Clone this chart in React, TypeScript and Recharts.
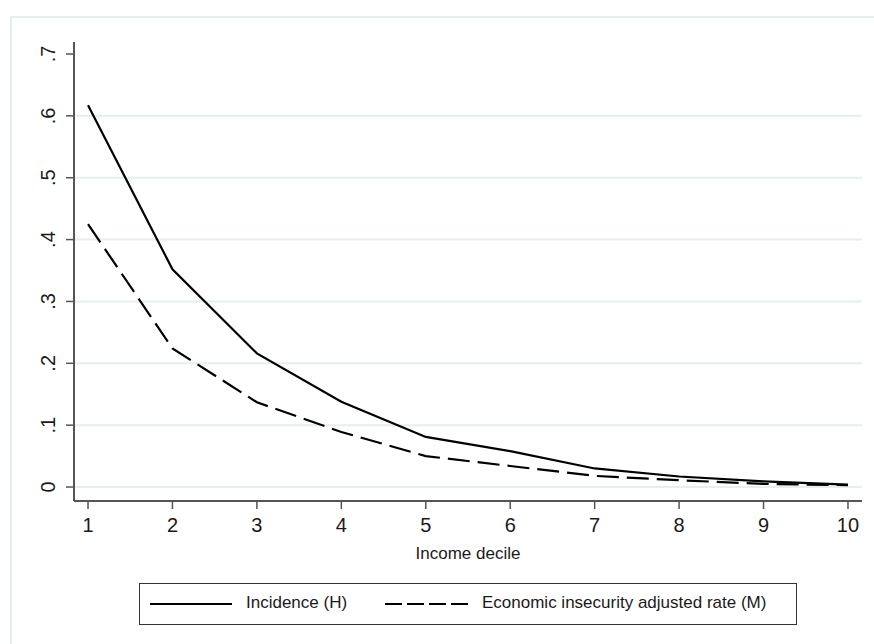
import React from 'react';
import { LineChart, Line, XAxis, YAxis, ReferenceLine, Legend } from 'recharts';

const deciles = [1, 2, 3, 4, 5, 6, 7, 8, 9, 10];
const incidenceH = [0.617, 0.352, 0.216, 0.138, 0.081, 0.058, 0.030, 0.017, 0.009, 0.004];
const adjustedM = [0.425, 0.224, 0.137, 0.089, 0.050, 0.034, 0.018, 0.011, 0.005, 0.003];
const yTicks = [0, 0.1, 0.2, 0.3, 0.4, 0.5, 0.6, 0.7];
const yTickLabels = ['0', '.1', '.2', '.3', '.4', '.5', '.6', '.7'];
const gridValues = [0, 0.1, 0.2, 0.3, 0.4, 0.5, 0.6];
const seriesNames = ['Incidence (H)', 'Economic insecurity adjusted rate (M)'];
const xLabel = 'Income decile';

const data = deciles.map((d, i) => ({ decile: d, H: incidenceH[i], M: adjustedM[i] }));

const FONT = '"Liberation Sans", Arial, sans-serif';
const TEXT = '#1a1a1a';
const AXIS = '#555';
const GRID = '#e6eef0';

const YTick = (props: any) => {
  const { x, y, payload } = props;
  const idx = yTicks.indexOf(payload.value);
  const label = idx >= 0 ? yTickLabels[idx] : String(payload.value);
  return (
    <text
      x={x}
      y={y}
      transform={`rotate(-90, ${x}, ${y})`}
      textAnchor="middle"
      fontSize={20}
      fontFamily={FONT}
      fill={TEXT}
    >
      {label}
    </text>
  );
};

const LegendBox = () => (
  <div
    style={{
      position: 'relative',
      boxSizing: 'border-box',
      width: 658,
      height: 42,
      border: '1.5px solid #333',
      background: '#fff',
      fontFamily: FONT,
      fontSize: 17,
      color: TEXT,
    }}
  >
    <svg width={658} height={42} style={{ position: 'absolute', left: -1.5, top: -1.5 }}>
      <line x1={11} y1={21} x2={93} y2={21} stroke="#000" strokeWidth={2.2} />
      <line x1={246} y1={21} x2={329} y2={21} stroke="#000" strokeWidth={2.2} strokeDasharray="17 5" />
    </svg>
    <span style={{ position: 'absolute', left: 106, top: 9, whiteSpace: 'nowrap', lineHeight: '20px' }}>{seriesNames[0]}</span>
    <span style={{ position: 'absolute', left: 342, top: 9, whiteSpace: 'nowrap', lineHeight: '20px' }}>{seriesNames[1]}</span>
  </div>
);

export default function App() {
  return (
    <div style={{ position: 'absolute', left: 0, top: 0, width: 874, height: 644, overflow: 'hidden', background: '#fff' }}>
      <div
        style={{
          position: 'absolute',
          left: 10,
          top: 16,
          width: 864,
          height: 628,
          borderTop: `2px solid ${GRID}`,
          borderLeft: `2px solid ${GRID}`,
          boxSizing: 'border-box',
        }}
      />
      <div style={{ position: 'absolute', left: 0, top: 0 }}>
        <LineChart width={874} height={644} data={data} margin={{ top: 42, right: 12, bottom: 83, left: 0 }}>
          <XAxis
            dataKey="decile"
            type="number"
            domain={[0.834, 10.166]}
            ticks={deciles}
            allowDataOverflow
            height={60}
            tickSize={8}
            tickMargin={9}
            axisLine={{ stroke: AXIS, strokeWidth: 2 }}
            tickLine={{ stroke: AXIS, strokeWidth: 1.5 }}
            tick={{ fill: TEXT, fontSize: 20, fontFamily: FONT }}
            label={{ value: xLabel, position: 'insideBottom', offset: 2, fill: TEXT, fontSize: 17, fontFamily: FONT }}
          />
          <YAxis
            type="number"
            domain={[-0.0226, 0.7194]}
            ticks={yTicks}
            allowDataOverflow
            width={74}
            tickSize={8}
            tickMargin={11}
            axisLine={{ stroke: AXIS, strokeWidth: 2 }}
            tickLine={{ stroke: AXIS, strokeWidth: 1.5 }}
            tick={<YTick />}
          />
          {gridValues.map((v) => (
            <ReferenceLine key={v} y={v} stroke={GRID} strokeWidth={2} />
          ))}
          <Line
            type="linear"
            dataKey="H"
            name={seriesNames[0]}
            stroke="#000"
            strokeWidth={2.2}
            dot={false}
            activeDot={false}
            isAnimationActive={false}
          />
          <Line
            type="linear"
            dataKey="M"
            name={seriesNames[1]}
            stroke="#000"
            strokeWidth={2.2}
            strokeDasharray="22 8"
            dot={false}
            activeDot={false}
            isAnimationActive={false}
          />
          <Legend
            layout="horizontal"
            verticalAlign="middle"
            align="center"
            content={<LegendBox />}
            wrapperStyle={{ position: 'absolute', left: 139, top: 583, width: 658, height: 42 }}
          />
        </LineChart>
      </div>
    </div>
  );
}
